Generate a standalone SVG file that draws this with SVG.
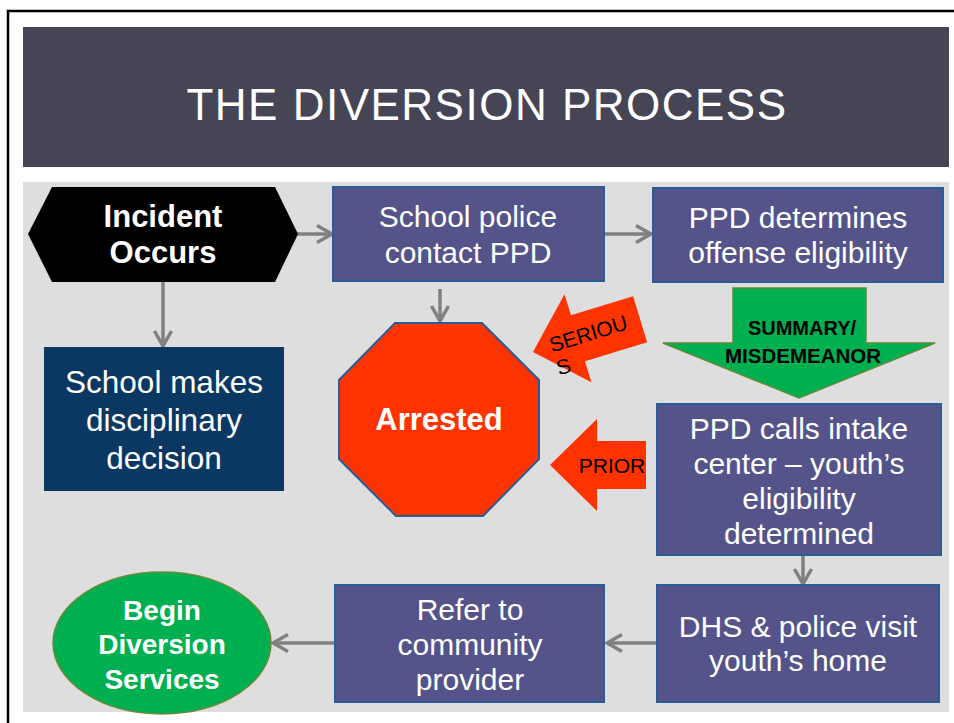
<svg xmlns="http://www.w3.org/2000/svg" width="954" height="723" viewBox="0 0 954 723">
<style>
.t{font-family:"Liberation Sans",Arial,Helvetica,sans-serif;fill:#fff;text-anchor:middle}
.r{font-size:30px}
.b{font-size:31px;font-weight:bold}
.box{fill:#54548a;stroke:#2a5d96;stroke-width:2}
.k{font-family:"Liberation Sans",Arial,Helvetica,sans-serif;fill:#000}
.c{stroke:#808080;stroke-width:3.5;fill:none}
</style>
<defs>
<marker id="ah" markerUnits="userSpaceOnUse" markerWidth="22" markerHeight="22" viewBox="0 0 22 22" refX="19" refY="11" orient="auto">
<path d="M4,2.5 L19,11 L4,19.5" fill="none" stroke="#808080" stroke-width="3.5"/>
</marker>
</defs>
<rect width="954" height="723" fill="#fff"/>
<rect x="8" y="11" width="970" height="740" fill="none" stroke="#000" stroke-width="2.5"/>
<g id="title">
<rect x="23" y="27" width="926" height="140" fill="#454555"/>
<text x="487" y="120" font-family="Liberation Sans,Arial,sans-serif" font-size="44" fill="#fff" text-anchor="middle" letter-spacing="1.5">THE DIVERSION PROCESS</text>
</g>
<rect x="23" y="182" width="926" height="530" fill="#dedede"/>
<g id="connectors">
<line class="c" x1="297" y1="234" x2="332" y2="234" marker-end="url(#ah)"/>
<line class="c" x1="163" y1="282" x2="163" y2="346" marker-end="url(#ah)"/>
<line class="c" x1="604" y1="234" x2="651" y2="234" marker-end="url(#ah)"/>
<line class="c" x1="440" y1="289" x2="440" y2="321" marker-end="url(#ah)"/>
<line class="c" x1="803" y1="556" x2="803" y2="584" marker-end="url(#ah)"/>
<line class="c" x1="657" y1="643" x2="607" y2="643" marker-end="url(#ah)"/>
<line class="c" x1="335" y1="643" x2="273" y2="643" marker-end="url(#ah)"/>
</g>
<g id="incident">
<polygon points="28,234 52,187 275,187 298,234 275,282 52,282" fill="#000"/>
<text class="t b" x="163" y="227">Incident</text>
<text class="t b" x="163" y="263">Occurs</text>
</g>
<g id="school-police">
<rect class="box" x="333" y="187" width="271" height="94"/>
<text class="t r" x="468" y="227" font-size="31">School police</text>
<text class="t r" x="468" y="263" font-size="31">contact PPD</text>
</g>
<g id="ppd-determines">
<rect class="box" x="653" y="188" width="290" height="94"/>
<text class="t r" x="798" y="228">PPD determines</text>
<text class="t r" x="798" y="263">offense eligibility</text>
</g>
<g id="school-makes">
<rect x="44" y="347" width="240" height="144" fill="#0b3862"/>
<text class="t" x="164" y="393" font-size="31.5">School makes</text>
<text class="t" x="164" y="431" font-size="31.5">disciplinary</text>
<text class="t" x="164" y="469" font-size="31.5">decision</text>
</g>
<g id="arrested">
<polygon points="395,323 482,323 539,380 539,459 483,516 396,516 339,459 339,380" fill="#ff3300" stroke="#2a5d96" stroke-width="2"/>
<text class="t b" x="439" y="430">Arrested</text>
</g>
<g id="serious">
<g transform="translate(533,352) rotate(-17)">
<polygon points="0,0 47,-46 47,-24 112,-24 112,24 47,24 47,46" fill="#ff3300"/>
<text class="k" x="18" y="6" font-size="21">SERIOU</text>
<text class="k" x="18" y="30" font-size="21">S</text>
</g>
</g>
<g id="summary">
<polygon points="733,288 866,288 866,343 935,343 799,398 663,343 733,343" fill="#00b050" stroke="#5f8a3a" stroke-width="1.5"/>
<text class="k" x="802" y="335" font-size="20" font-weight="bold" text-anchor="middle">SUMMARY/</text>
<text class="k" x="803" y="363" font-size="20.5" font-weight="bold" text-anchor="middle">MISDEMEANOR</text>
</g>
<g id="prior">
<polygon points="550,465 597,419 597,441 646,441 646,489 597,489 597,511" fill="#ff3300"/>
<text class="k" x="612" y="473" font-size="21" text-anchor="middle">PRIOR</text>
</g>
<g id="ppd-calls">
<rect class="box" x="657" y="404" width="284" height="151"/>
<text class="t r" x="799" y="439">PPD calls intake</text>
<text class="t r" x="799" y="474">center – youth’s</text>
<text class="t r" x="799" y="509">eligibility</text>
<text class="t r" x="799" y="544">determined</text>
</g>
<g id="dhs">
<rect class="box" x="657" y="585" width="282" height="117"/>
<text class="t r" x="798" y="637">DHS &amp; police visit</text>
<text class="t r" x="798" y="671">youth’s home</text>
</g>
<g id="refer">
<rect class="box" x="335" y="585" width="269" height="117"/>
<text class="t r" x="470" y="620">Refer to</text>
<text class="t r" x="470" y="655">community</text>
<text class="t r" x="470" y="690">provider</text>
</g>
<g id="begin">
<ellipse cx="162" cy="643" rx="109" ry="71" fill="#00b050" stroke="#6b8a3a" stroke-width="1.5"/>
<text class="t" x="162" y="620" font-size="28" font-weight="bold">Begin</text>
<text class="t" x="162" y="654" font-size="28" font-weight="bold">Diversion</text>
<text class="t" x="162" y="689" font-size="28" font-weight="bold">Services</text>
</g>
</svg>
